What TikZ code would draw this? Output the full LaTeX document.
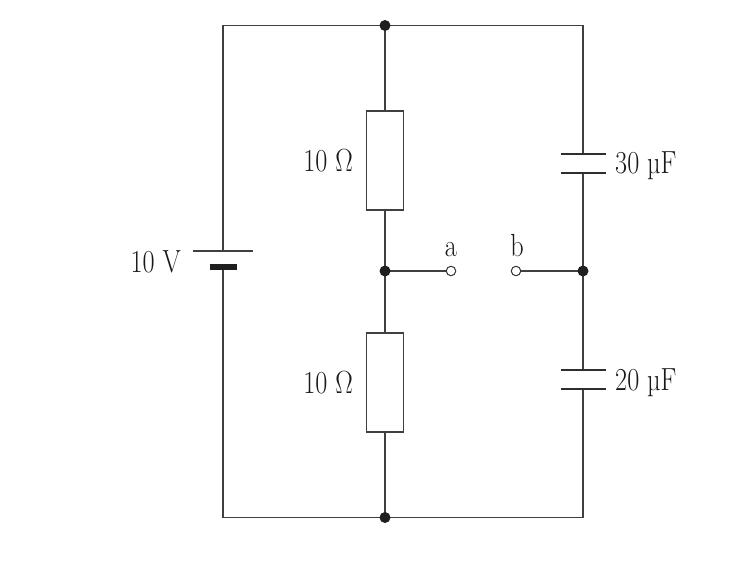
\documentclass[tikz,border=0pt]{standalone}
\usepackage{fontspec}
\newcommand{\cktlbl}[1]{\scalebox{0.82}[1]{#1}}
\tikzset{
  wire/.style={line width=1.2bp, draw=black!75},
  plate/.style={line width=1.8bp, draw=black!82},
  resbox/.style={draw=black!75, line width=1.2bp, rectangle, minimum width=37bp, minimum height=99bp, inner sep=0pt},
  jdot/.style={circle, fill=black!88, minimum size=11bp, inner sep=0pt},
  term/.style={circle, draw=black!80, fill=white, line width=1bp, minimum size=9.5bp, inner sep=0pt},
  lbl/.style={inner sep=0pt, font=\fontsize{32bp}{38bp}\selectfont, text=black!90}
}
\begin{document}
\begin{tikzpicture}[x=1bp,y=-1bp]
\useasboundingbox (0,0) rectangle (755,565);
% corners and points
\coordinate (TL) at (223,25.5);
\coordinate (TR) at (583,25.5);
\coordinate (BL) at (223,517.5);
\coordinate (BR) at (583,517.5);
\coordinate (batTop) at (223,251);
\coordinate (batBot) at (223,267);
\coordinate (c1t) at (583,154);
\coordinate (c1b) at (583,173);
\coordinate (c2t) at (583,370);
\coordinate (c2b) at (583,389);
\node[resbox] (R1) at (385,160.5) {};
\node[resbox] (R2) at (385,382.5) {};
% wires
\draw[wire] (batTop) -- (TL) -- (TR) -- (c1t);
\draw[wire] (c1b) -- (c2t);
\draw[wire] (c2b) -- (BR) -- (BL) -- (batBot);
\draw[wire] (385,25.5) coordinate (TM) -- (R1.north);
\draw[wire] (R1.south) -- (R2.north);
\draw[wire] (R2.south) -- (385,517.5) coordinate (BM);
\coordinate (M) at (385,271);
\coordinate (RJ) at (583,271);
\node[term] (A) at (451,271) {};
\node[term] (B) at (516,271) {};
\draw[wire] (M) -- (A);
\draw[wire] (B) -- (RJ);
% junction dots
\node[jdot] (dTM) at (TM) {};
\node[jdot] (dBM) at (BM) {};
\node[jdot] (dM) at (M) {};
\node[jdot] (dRJ) at (RJ) {};
% battery
\draw[wire] ([xshift=-30bp]batTop) -- ([xshift=30bp]batTop);
\draw[line width=6.5bp, draw=black!88] ([xshift=-13.5bp]batBot) -- ([xshift=13.5bp]batBot);
% capacitors
\draw[plate] ([xshift=-22.5bp]c1t) -- ([xshift=22.5bp]c1t);
\draw[plate] ([xshift=-22.5bp]c1b) -- ([xshift=22.5bp]c1b);
\draw[plate] ([xshift=-22.5bp]c2t) -- ([xshift=22.5bp]c2t);
\draw[plate] ([xshift=-22.5bp]c2b) -- ([xshift=22.5bp]c2b);
% labels
\node[lbl, anchor=base east] (lV) at (181,272) {\cktlbl{10 V}};
\node[lbl, anchor=base east] (lR1) at (353,172) {\cktlbl{10 Ω}};
\node[lbl, anchor=base east] (lR2) at (353,393) {\cktlbl{10 Ω}};
\node[lbl, anchor=base] (la) at (451,256) {\cktlbl{a}};
\node[lbl, anchor=base] (lb) at (517,256) {\cktlbl{b}};
\node[lbl, anchor=base west] (lC1) at (615,174) {\cktlbl{30 µF}};
\node[lbl, anchor=base west] (lC2) at (615,390) {\cktlbl{20 µF}};
\end{tikzpicture}
\end{document}
